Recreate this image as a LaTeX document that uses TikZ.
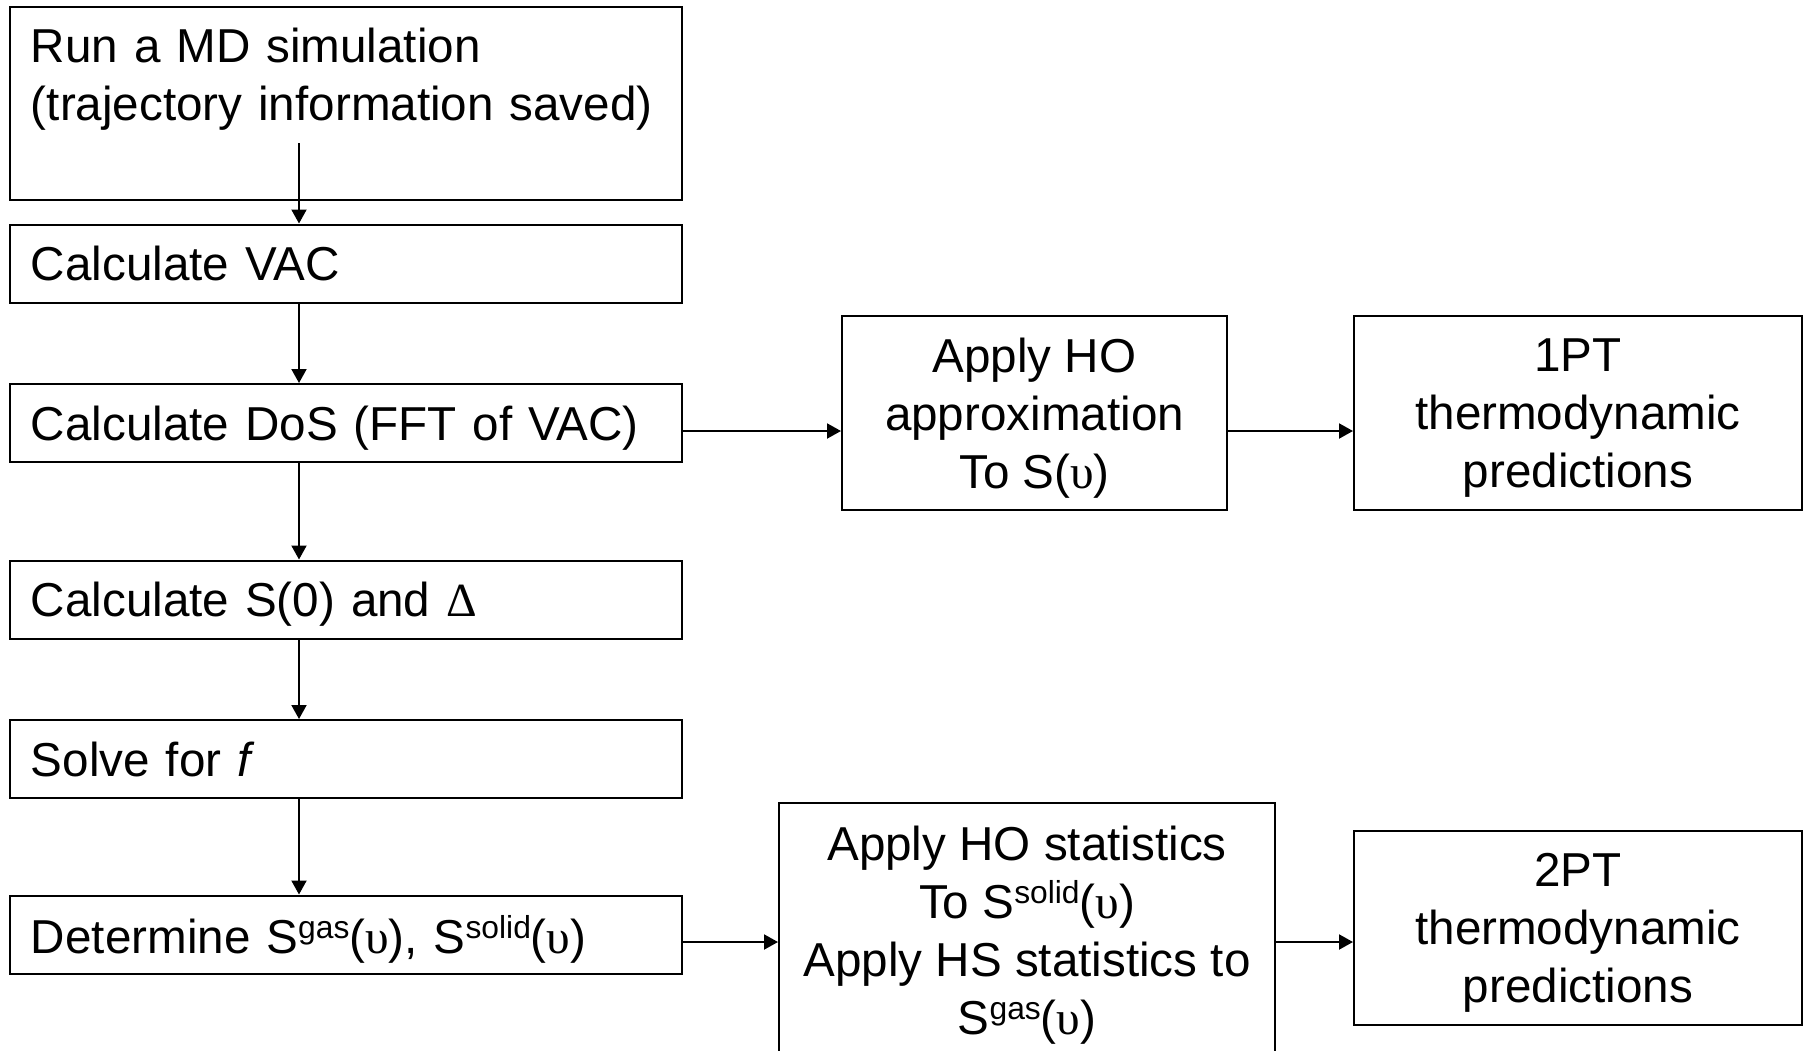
\documentclass[tikz,border=0pt]{standalone}
\usepackage{fontspec}
\setmainfont{Liberation Sans}
\newfontfamily\greekfont{Liberation Serif}
\usetikzlibrary{arrows.meta}

\newcommand{\nuv}{{\greekfont υ}}
\newcommand{\sups}[1]{\raisebox{0.3em}{\fontsize{15.9pt}{15.9pt}\selectfont #1}}

\tikzset{
  stepbox/.style={draw, line width=1pt, minimum width=336pt, minimum height=39pt,
    text width=315pt, inner xsep=10.5pt, align=left, text depth=0pt},
  outbox/.style={draw, line width=1pt, minimum height=97pt, align=center,
    text depth=0pt},
  flow/.style={-{Triangle[length=7pt,width=7.5pt]}, line width=1pt}
}

\begin{document}
\begin{tikzpicture}[x=0.5pt,y=-0.5pt,font=\fontsize{23.8pt}{29pt}\selectfont]
    \useasboundingbox (0,0) rectangle (1810,1050);
    %% Draw the steps
    \node[stepbox, text depth=, minimum height=96.5pt] (md) at (346,103.5)
      {Run a MD simulation\\(trajectory information saved)\\\mbox{}};
    \node[stepbox] (vac) at (346,263.5) {Calculate VAC};
    \node[stepbox] (dos) at (346,423) {Calculate DoS (FFT of VAC)};
    \node[stepbox] (szero) at (346,599.5) {Calculate S(0) and {\greekfont Δ}};
    \node[stepbox] (solve) at (346,759) {Solve for \textit{f}};
    \node[stepbox] (split) at (346,934.5)
      {Determine S\sups{gas}(\nuv), S\sups{solid}(\nuv)};
    %% Draw the outcomes
    \node[outbox, minimum width=192.5pt] (hoa) at (1034.5,413)
      {Apply HO\\approximation\\To S(\nuv)};
    \node[outbox, minimum width=224pt] (onept) at (1578,413)
      {1PT\\thermodynamic\\predictions};
    \node[outbox, minimum width=248pt, minimum height=127pt] (hob) at (1027,930)
      {Apply HO statistics\\To S\sups{solid}(\nuv)\\Apply HS statistics to\\S\sups{gas}(\nuv)};
    \node[outbox, minimum width=224pt] (twopt) at (1578,928)
      {2PT\\thermodynamic\\predictions};
    %% Draw the arrows
    \coordinate (mdout) at (299,143);
    \coordinate (hoin) at ([yshift=-4pt]dos.east);
    \coordinate (hsin) at ([yshift=-3.75pt]split.east);
    \begin{scope}[every path/.style={flow}]
      \draw (mdout) -- (vac.north -| mdout);
      \draw (vac.south -| mdout) -- (dos.north -| mdout);
      \draw (dos.south -| mdout) -- (szero.north -| mdout);
      \draw (szero.south -| mdout) -- (solve.north -| mdout);
      \draw (solve.south -| mdout) -- (split.north -| mdout);
      \draw (hoin) -- (hoin -| hoa.west);
      \draw (hoin -| hoa.east) -- (hoin -| onept.west);
      \draw (hsin) -- (hsin -| hob.west);
      \draw (hsin -| hob.east) -- (hsin -| twopt.west);
    \end{scope}
\end{tikzpicture}
\end{document}
